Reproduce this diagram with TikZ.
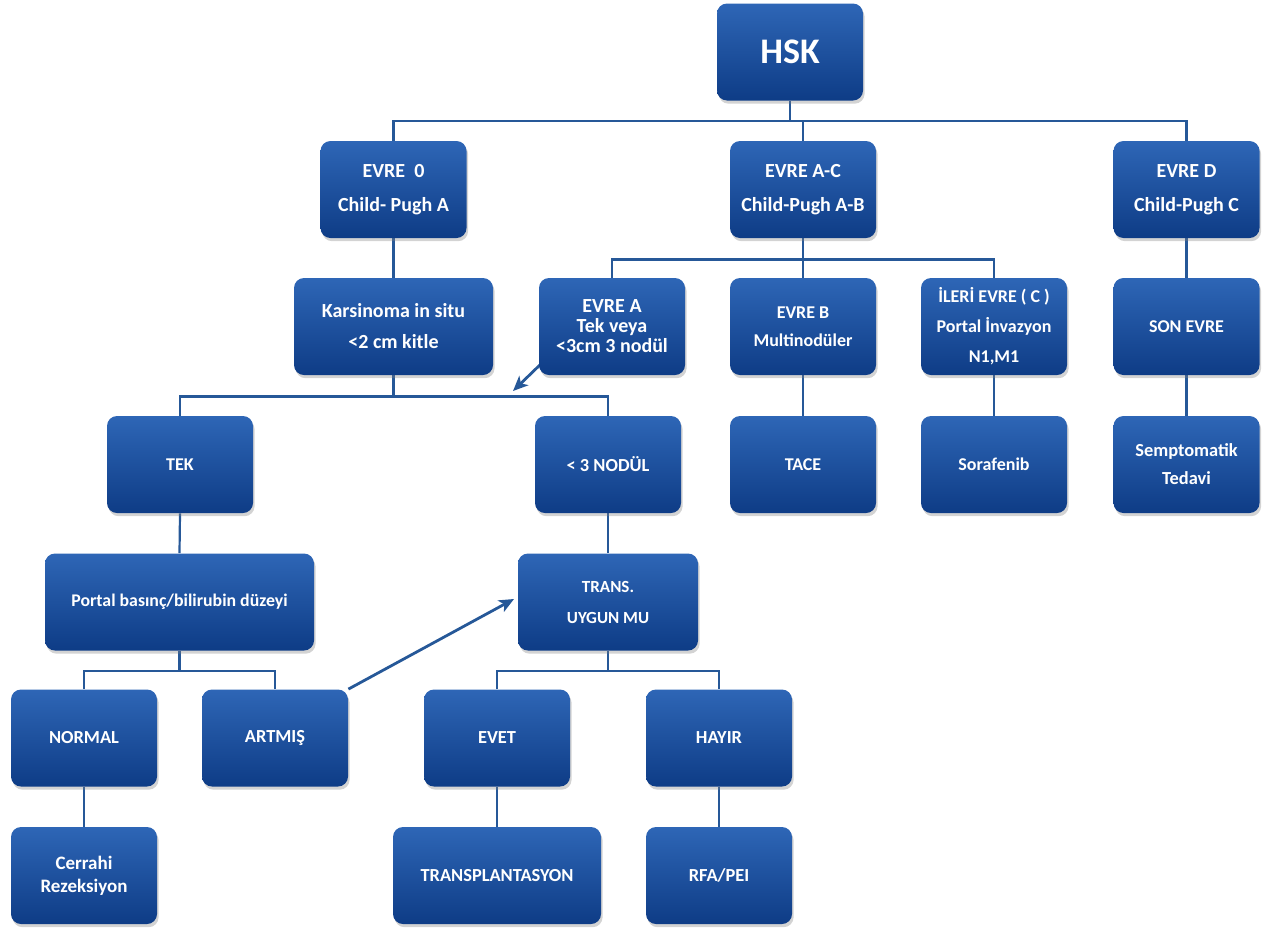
\documentclass[tikz,border=0pt]{standalone}
\usepackage{fontspec}
\setmainfont{Carlito}
\usetikzlibrary{arrows.meta,shadows,backgrounds}
\definecolor{mavi1}{RGB}{46,102,182}
\definecolor{mavi2}{RGB}{14,60,134}
\definecolor{hat}{RGB}{38,88,152}

\begin{document}
\begin{tikzpicture}[x=0.5pt,y=-0.5pt,
	kutu/.style={rounded corners=5pt,top color=mavi1,bottom color=mavi2,text=white,align=center,
		minimum width=73pt,minimum height=48.5pt,inner sep=1pt,
		font=\bfseries\fontsize{9.2}{14}\selectfont,
		drop shadow={shadow xshift=0.8pt,shadow yshift=-1.6pt,opacity=0.35}},
	buyuk/.style={font=\bfseries\fontsize{10}{17}\selectfont},
	kucuk/.style={font=\bfseries\fontsize{9}{15}\selectfont},
	bag/.style={draw=hat,line width=1.1pt},
	ok/.style={draw=hat,line width=1.4pt,-{Stealth[length=7.5pt,width=6.5pt,inset=2pt]}}]
	\useasboundingbox (0,0) rectangle (1262,932);
	\node[kutu,font=\bfseries\fontsize{18}{20}\selectfont] (hsk) at (790,52) {HSK};
	\node[kutu,buyuk] (evre0) at (393.5,189.5) {EVRE\ \ 0\\Child- Pugh A};
	\node[kutu,buyuk] (evreac) at (803,189.5) {EVRE A-C\\Child-Pugh A-B};
	\node[kutu,buyuk] (evred) at (1186.5,189.5) {EVRE D\\Child-Pugh C};
	\node[kutu,buyuk,minimum width=99.5pt,font=\bfseries\fontsize{10}{15.5}\selectfont] (karsinoma) at (393.5,326.5) {Karsinoma in situ\\<2 cm kitle};
	\node[kutu,font=\bfseries\fontsize{10}{10}\selectfont] (evrea) at (612,326.5) {EVRE A\\Tek veya\\<3cm 3 nodül};
	\node[kutu,kucuk,font=\bfseries\fontsize{9}{14}\selectfont] (evreb) at (803,326.5) {EVRE B\\Multinodüler};
	\node[kutu,kucuk] (ileri) at (994,326.5) {İLERİ EVRE ( C )\\Portal İnvazyon\\N1,M1};
	\node[kutu,kucuk] (son) at (1186.5,326.5) {SON EVRE};
	\node[kutu,kucuk] (tek) at (180,464.5) {TEK};
	\node[kutu] (nodul) at (608,464.5) {< 3 NODÜL};
	\node[kutu,kucuk] (tace) at (803,464.5) {TACE};
	\node[kutu,kucuk] (sorafenib) at (994,464.5) {Sorafenib};
	\node[kutu] (semp) at (1186.5,464.5) {Semptomatik\\Tedavi};
	\node[kutu,minimum width=134.5pt,font=\bfseries\fontsize{8.9}{14}\selectfont] (portal) at (179.5,602) {Portal basınç/bilirubin düzeyi};
	\node[kutu,minimum width=90pt,font=\bfseries\fontsize{8.5}{15.5}\selectfont] (trans) at (608,602) {TRANS.\\UYGUN MU};
	\node[kutu] (normal) at (84,738) {NORMAL};
	\node[kutu] (artmis) at (275,738) {ARTMIŞ};
	\node[kutu] (evet) at (497,738) {EVET};
	\node[kutu] (hayir) at (719,738) {HAYIR};
	\node[kutu,font=\bfseries\fontsize{9.5}{11.5}\selectfont] (cerrahi) at (84,875.5) {Cerrahi\\Rezeksiyon};
	\node[kutu,minimum width=104pt] (transp) at (497,875.5) {TRANSPLANTASYON};
	\node[kutu] (rfa) at (719,875.5) {RFA/PEI};
	\coordinate (u1) at (513,391);
	\coordinate (u2) at (514,599);
	\begin{scope}[on background layer]
		\draw[bag] (hsk.south) -- ++(0,20) coordinate (d1);
		\draw[bag] (evre0.north) |- (d1) -| (evred.north);
		\draw[bag] (d1) -| (evreac.north);
		\draw[bag] (evreac.south) -- ++(0,21) coordinate (d2);
		\draw[bag] (evrea.north) |- (d2) -| (ileri.north);
		\draw[bag] (d2) -- (evreb.north);
		\draw[bag] (evre0.south) -- (karsinoma.north);
		\draw[bag] (evred.south) -- (son.north);
		\draw[bag] (karsinoma.south) -- ++(0,21) coordinate (d3);
		\draw[bag] (tek.north) |- (d3) -| (nodul.north);
		\draw[bag] (evreb.south) -- (tace.north);
		\draw[bag] (ileri.south) -- (sorafenib.north);
		\draw[bag] (son.south) -- (semp.north);
		\draw[bag] (tek.south) -- (portal.north);
		\draw[bag] (nodul.south) -- (trans.north);
		\draw[bag] (portal.south) -- ++(0,20) coordinate (d4);
		\draw[bag] (normal.north) |- (d4) -| (artmis.north);
		\draw[bag] (trans.south) -- ++(0,20) coordinate (d5);
		\draw[bag] (evet.north) |- (d5) -| (hayir.north);
		\draw[bag] (normal.south) -- (cerrahi.north);
		\draw[bag] (evet.south) -- (transp.north);
		\draw[bag] (hayir.south) -- (rfa.north);
		\draw[ok] ([shift={(6,-15)}]evrea.south west) -- (u1);
		\draw[ok] (artmis.north east) -- (u2);
	\end{scope}
\end{tikzpicture}
\end{document}
